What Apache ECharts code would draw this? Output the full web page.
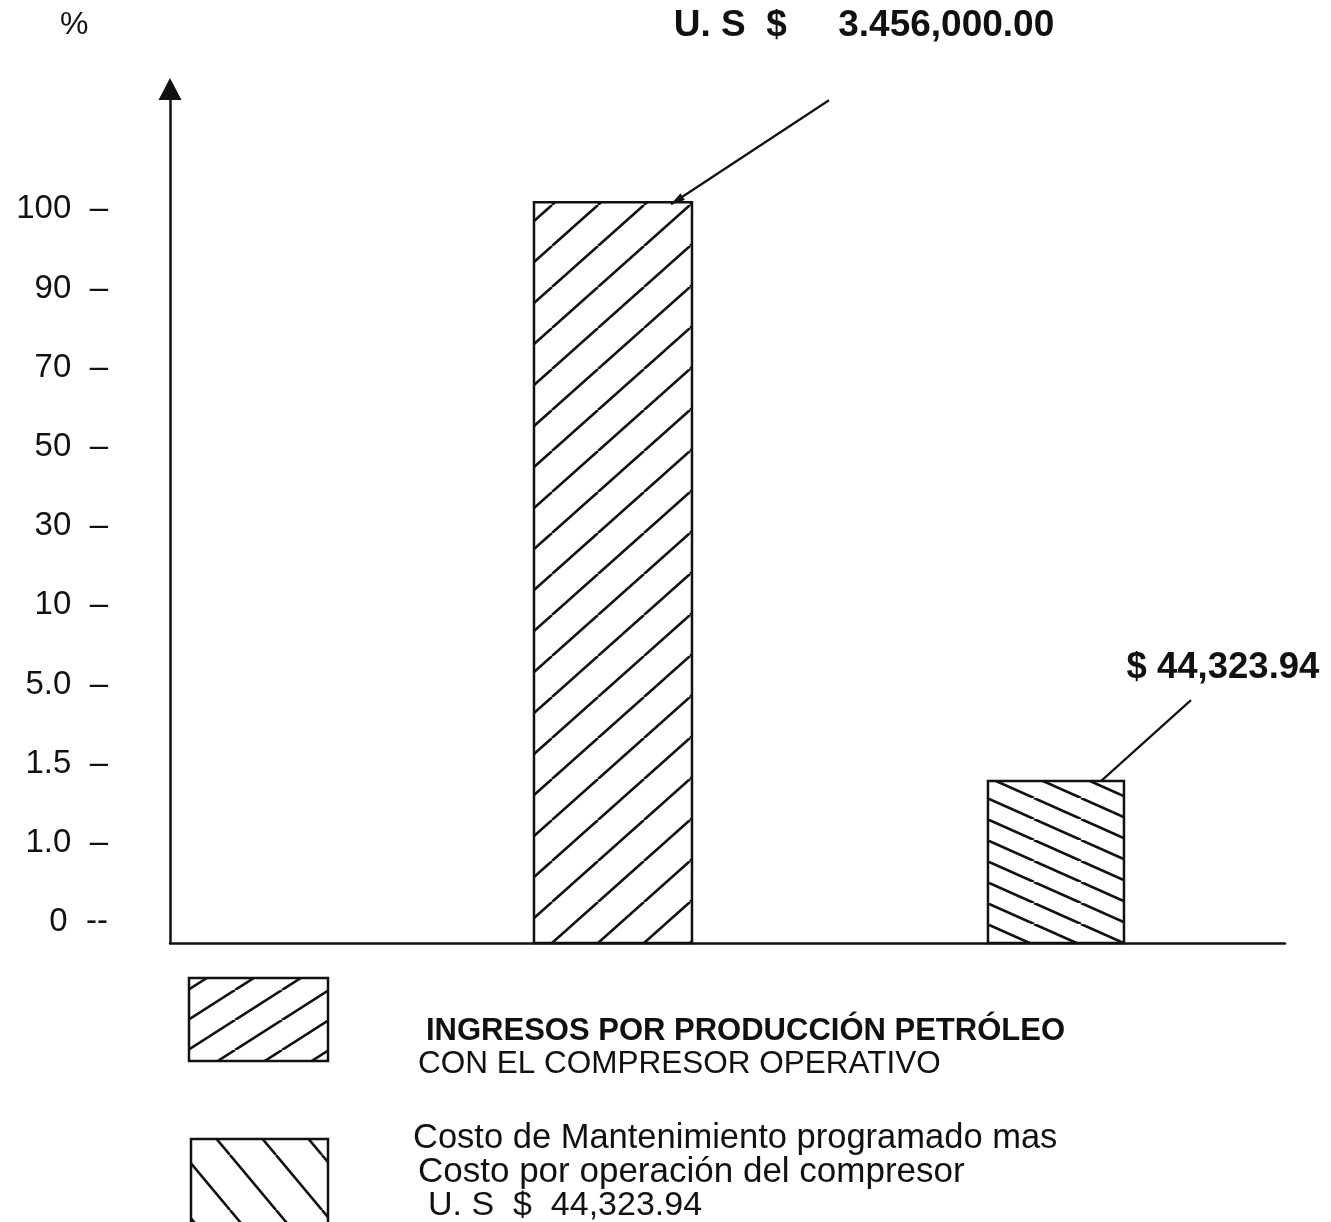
<!DOCTYPE html>
<html>
<head>
<meta charset="utf-8">
<title>Ingresos vs costo del compresor</title>
<script src="https://cdn.jsdelivr.net/npm/echarts@6/dist/echarts.min.js"></script>
<style>
    html, body { margin: 0; padding: 0; background: #fff; }
    #chart { width: 1331px; height: 1222px; }
</style>
</head>
<body>
<div id="chart"></div>
<script>
// y axis ticks are evenly spaced, so they are drawn at positions 0..9
var tickLabels = ['0', '1.0', '1.5', '5.0', '10', '30', '50', '70', '90', '100'];
var categories = ['Ingresos por producción petróleo', 'Costo de mantenimiento y operación'];
// bar tops, in tick-position units
var barLevels = [9.09, 1.78];
var amountLabels = ['U. S  $     3.456,000.00', '$ 44,323.94'];

var FONT = '"Liberation Sans", Arial, sans-serif';
var INK = '#111';

var yMin = -0.265, yMax = 10.52;
var barWidths = [158, 136];
var amountFonts = ['bold 37px ', 'bold 36.5px '];
// leader line + label offsets from the bar's top-right corner
var callouts = [
    {from: [137, -102], to: [-21, 2], text: [172, -176], arrow: true},
    {from: [67, -81], to: [-23, 0], text: [99, -113], arrow: false}
];

function hatch(h, v, dir) {
    var c = document.createElement('canvas');
    c.width = h;
    c.height = v;
    var ctx = c.getContext('2d');
    ctx.fillStyle = '#fff';
    ctx.fillRect(0, 0, h, v);
    ctx.strokeStyle = INK;
    ctx.lineWidth = 2.6;
    for (var k = -1; k <= 1; k++) {
        ctx.beginPath();
        if (dir === '/') {
            ctx.moveTo(k * h, v);
            ctx.lineTo(k * h + h, 0);
        } else {
            ctx.moveTo(k * h, 0);
            ctx.lineTo(k * h + h, v);
        }
        ctx.stroke();
    }
    return {image: c, repeat: 'repeat'};
}

var barPatterns = [hatch(46, 41, '/'), hatch(47, 21, '\\')];
var legendPatterns = [hatch(47, 30, '/'), hatch(46, 55, '\\')];

var myChart = echarts.init(document.getElementById('chart'));

var data = barLevels.map(function (v, i) {
    return [i + 1, v];
});

var option = {
    animation: false,
    backgroundColor: '#fff',
    grid: {left: 170, right: 46, top: 89, bottom: 279},
    xAxis: {
        type: 'value',
        min: 0,
        max: 2.517,
        axisLine: {show: true, onZero: false, lineStyle: {color: INK, width: 2.5}},
        axisTick: {show: false},
        axisLabel: {show: false},
        splitLine: {show: false}
    },
    yAxis: {
        type: 'value',
        min: yMin,
        max: yMax,
        axisLine: {
            show: true,
            onZero: false,
            symbol: ['none', 'triangle'],
            symbolSize: [23, 22],
            lineStyle: {color: INK, width: 2.5}
        },
        axisTick: {show: false},
        splitLine: {show: false},
        axisLabel: {
            customValues: tickLabels.map(function (t, i) { return i; }),
            margin: 62,
            color: INK,
            fontSize: 33,
            fontFamily: FONT,
            formatter: function (v) {
                var i = Math.round(v);
                return tickLabels[i] + (i === 0 ? '  --' : '  \u2013');
            }
        }
    },
    series: [{
        type: 'custom',
        name: 'barras',
        clip: false,
        data: data,
        renderItem: function (params, api) {
            var i = params.dataIndex;
            var top = api.coord([api.value(0), api.value(1)]);
            var base = api.coord([api.value(0), yMin]);
            var w = barWidths[i];
            var x0 = top[0] - w / 2;
            var cx = x0 + w, cy = top[1];
            var c = callouts[i];
            var children = [{
                type: 'rect',
                shape: {x: x0, y: top[1], width: w, height: base[1] - top[1]},
                style: {fill: barPatterns[i], stroke: INK, lineWidth: 2.5}
            }, {
                type: 'line',
                shape: {x1: cx + c.from[0], y1: cy + c.from[1], x2: cx + c.to[0], y2: cy + c.to[1]},
                style: {stroke: INK, lineWidth: 2.2}
            }, {
                type: 'text',
                style: {
                    text: amountLabels[i],
                    x: cx + c.text[0],
                    y: cy + c.text[1],
                    align: 'center',
                    verticalAlign: 'middle',
                    fill: INK,
                    font: amountFonts[i] + FONT
                }
            }];
            if (c.arrow) {
                var tx = cx + c.to[0], ty = cy + c.to[1];
                var dx = c.to[0] - c.from[0], dy = c.to[1] - c.from[1];
                var len = Math.sqrt(dx * dx + dy * dy);
                var ux = dx / len, uy = dy / len;
                var bx = tx - 14 * ux, by = ty - 14 * uy;
                children.push({
                    type: 'polygon',
                    shape: {points: [[tx, ty], [bx - 4 * uy, by + 4 * ux], [bx + 4 * uy, by - 4 * ux]]},
                    style: {fill: INK}
                });
            }
            return {type: 'group', children: children};
        }
    }],
    graphic: [
        {type: 'text', left: 60, top: 9, style: {text: '%', font: '32px ' + FONT, fill: INK}},
        {type: 'rect', shape: {x: 189, y: 978, width: 139, height: 83},
            style: {fill: legendPatterns[0], stroke: INK, lineWidth: 2.5}},
        {type: 'rect', shape: {x: 191, y: 1139, width: 137, height: 90},
            style: {fill: legendPatterns[1], stroke: INK, lineWidth: 2.5}},
        {type: 'text', x: 426, y: 1031, style: {text: 'INGRESOS POR PRODUCCIÓN PETRÓLEO',
            font: 'bold 31px ' + FONT, fill: INK, verticalAlign: 'middle'}},
        {type: 'text', x: 418, y: 1064, style: {text: 'CON EL COMPRESOR OPERATIVO',
            font: '31.5px ' + FONT, fill: INK, verticalAlign: 'middle'}},
        {type: 'text', x: 413, y: 1138, style: {text: 'Costo de Mantenimiento programado mas',
            font: '34.5px ' + FONT, fill: INK, verticalAlign: 'middle'}},
        {type: 'text', x: 418, y: 1172, style: {text: 'Costo por operación del compresor',
            font: '35px ' + FONT, fill: INK, verticalAlign: 'middle'}},
        {type: 'text', x: 428, y: 1206, style: {text: 'U. S  $  44,323.94',
            font: '34px ' + FONT, fill: INK, verticalAlign: 'middle'}}
    ]
};

myChart.setOption(option);
</script>
</body>
</html>
